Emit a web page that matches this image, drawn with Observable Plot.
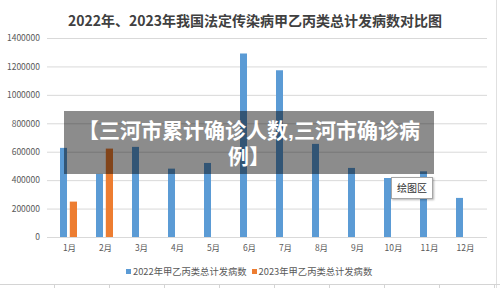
<!DOCTYPE html>
<html>
<head>
<meta charset="utf-8">
<script src="https://cdn.jsdelivr.net/npm/d3@7"></script>
<script src="https://cdn.jsdelivr.net/npm/@observablehq/plot@0.6"></script>
<style>
  html, body { margin: 0; padding: 0; background: #ffffff; }
  #page { position: relative; width: 500px; height: 288px; overflow: hidden;
          font-family: "Noto Sans CJK SC", "Noto Sans", sans-serif; background: #ffffff; }
  #title { position: absolute; left: 5px; top: 10px; width: 500px; text-align: center;
           font-size: 14px; font-weight: bold; color: #404040; line-height: 20px; }
  #chart { position: absolute; left: 0; top: 30px; }
  #legend { position: absolute; left: 126px; top: 264px; font-size: 9.3px; color: #595959;
            line-height: 14px; white-space: nowrap; }
  #legend .item { display: inline-block; margin-right: 5px; }
  #legend .sw { display: inline-block; width: 5px; height: 5px; margin-right: 2px; vertical-align: 1px; }
  #banner { position: absolute; left: 64px; top: 111px; width: 370px; height: 63px;
            background: rgba(0, 0, 0, 0.45); box-sizing: border-box; padding-top: 7px; }
  #banner div { color: #ffffff; font-weight: bold; font-size: 21px; height: 26px; line-height: 26px;
                text-align: center; white-space: nowrap;
                font-family: "Liberation Sans", "Noto Sans CJK SC", sans-serif; }
  #tip { position: absolute; left: 391px; top: 177px; width: 42px; height: 22px; box-sizing: border-box;
         background: #ffffff; border: 1px solid #a6a6a6; box-shadow: 1px 1px 2px rgba(0,0,0,0.3);
         font-size: 10px; color: #333333; line-height: 20px; text-align: center; }
  #frameRight { position: absolute; left: 496px; top: 0; width: 1px; height: 288px; background: #e0e0e0; }
  #sheet { position: absolute; left: 0; top: 284px; width: 500px; height: 4px; border-top: 1px solid #d4d4d4; }
  #sheet .col { position: absolute; top: 0; width: 1px; height: 4px; background: #d4d4d4; }
</style>
</head>
<body>
<div id="page">
  <div id="title">2022年、2023年我国法定传染病甲乙丙类总计发病数对比图</div>
  <div id="chart"></div>
  <div id="legend"></div>
  <div id="frameRight"></div>
  <div id="sheet"></div>
  <div id="banner"><div>【三河市累计确诊人数,三河市确诊病</div><div>例】</div></div>
  <div id="tip">绘图区</div>
</div>
<script>
// Monthly totals of notifiable class A/B/C infectious disease cases
const months = ["1月", "2月", "3月", "4月", "5月", "6月", "7月", "8月", "9月", "10月", "11月", "12月"];
const cases2022 = [627000, 444000, 634000, 481000, 521000, 1291000, 1173000, 655000, 486000, 415000, 462000, 275000];
const cases2023 = [249000, 622000];
const yTicks = [0, 200000, 400000, 600000, 800000, 1000000, 1200000, 1400000];
const seriesNames = ["2022年甲乙丙类总计发病数", "2023年甲乙丙类总计发病数"];
const seriesColors = ["#5b9bd5", "#ed7d31"];

const rows2022 = cases2022.map((v, i) => ({month: months[i], value: v}));
const rows2023 = cases2023.map((v, i) => ({month: months[i], value: v}));

const chart = Plot.plot({
  width: 500,
  height: 228,
  marginTop: 8,
  marginBottom: 21,
  marginLeft: 47,
  marginRight: 13,
  style: {
    fontSize: "8.5px",
    fontFamily: "'Noto Sans CJK SC', 'Noto Sans', sans-serif",
    color: "#595959",
    background: "transparent"
  },
  x: {domain: months, padding: 0, label: null, tickSize: 0, tickPadding: 7},
  y: {domain: [0, 1400000], ticks: yTicks, label: null, tickSize: 0, tickPadding: 7.5,
      tickFormat: d => String(d)},
  marks: [
    Plot.gridY(yTicks, {stroke: "#d9d9d9", strokeOpacity: 1}),
    Plot.barY(rows2022, {x: "month", y: "value", fill: seriesColors[0], insetLeft: 9, insetRight: 20}),
    Plot.barY(rows2023, {x: "month", y: "value", fill: seriesColors[1], insetLeft: 18.8, insetRight: 10})
  ]
});
document.getElementById("chart").appendChild(chart);

// Legend
const legend = document.getElementById("legend");
seriesNames.forEach((name, i) => {
  const item = document.createElement("span");
  item.className = "item";
  const sw = document.createElement("span");
  sw.className = "sw";
  sw.style.background = seriesColors[i];
  item.appendChild(sw);
  item.appendChild(document.createTextNode(name));
  legend.appendChild(item);
});

// Worksheet column separators along the bottom edge
const sheet = document.getElementById("sheet");
for (let x = 54; x < 500; x += 55) {
  const c = document.createElement("div");
  c.className = "col";
  c.style.left = x + "px";
  sheet.appendChild(c);
}
</script>
</body>
</html>
